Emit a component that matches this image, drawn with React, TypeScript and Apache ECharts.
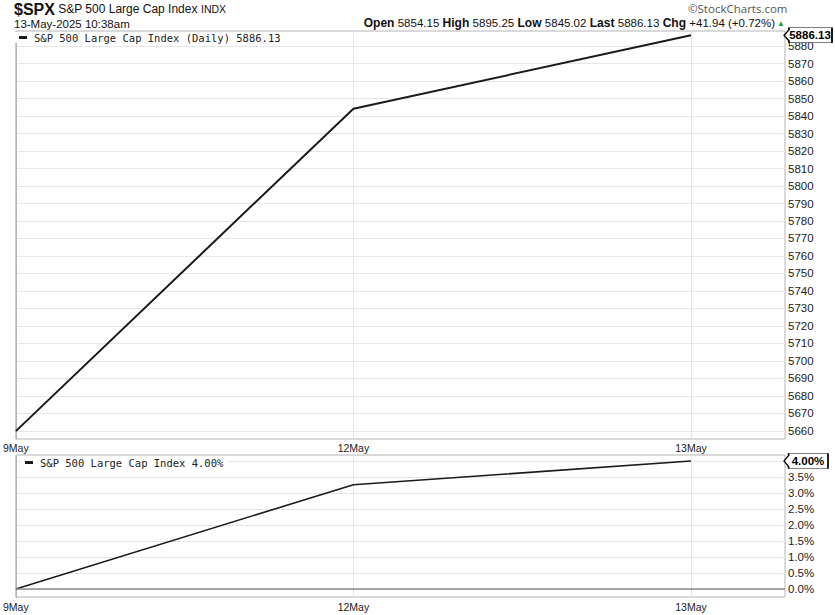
import React, { useEffect, useRef } from "react";
import * as echarts from "echarts";

const dates = ["9May", "12May", "13May"];
const closes = [5659.91, 5844.19, 5886.13];
const pctChange = [0, 3.26, 4.0];
const priceTicks = [5660, 5670, 5680, 5690, 5700, 5710, 5720, 5730, 5740, 5750, 5760, 5770, 5780, 5790, 5800, 5810, 5820, 5830, 5840, 5850, 5860, 5870, 5880];
const pctLabelTicks = [0, 0.5, 1.0, 1.5, 2.0, 2.5, 3.0, 3.5];
const pctGridTicks = [0, 0.5, 1.0, 1.5, 2.0, 2.5, 3.0, 3.5, 4.0];
const quoteLabels = ["Open", "High", "Low", "Last", "Chg"];
const quoteValues = ["5854.15", "5895.25", "5845.02", "5886.13", "+41.94 (+0.72%)"];
const seriesNames = ["S&P 500 Large Cap Index (Daily)", "S&P 500 Large Cap Index"];

const X_MAX = 2.2785;
const FONT = "'Liberation Sans', Arial, sans-serif";
const MONO = "'DejaVu Sans Mono', monospace";
const GRID_C = "#e6e6e6";
const BORDER_C = "#b4b4b4";

export default function App() {
  const ref = useRef<HTMLDivElement>(null);
  useEffect(() => {
    document.body.style.margin = "0";
    const chart = echarts.init(ref.current!, null, { renderer: "svg" });
    const lastClose = closes[closes.length - 1];
    const lastPct = pctChange[pctChange.length - 1];
    const boxPath = "path://M0,7.5 L5,2 L5,0 L48,0 L48,15 L5,15 L5,13 Z";
    const xAxisBase = (gridIndex: number, margin: number) => ({
      type: "value",
      gridIndex,
      min: 0,
      max: X_MAX,
      axisLine: { show: false },
      axisTick: { show: false, customValues: [0, 1, 2] },
      axisLabel: {
        customValues: [0, 1, 2],
        formatter: (v: number) => dates[Math.round(v)],
        fontFamily: FONT,
        fontSize: 10.5,
        color: "#222",
        margin,
      },
      splitLine: { show: true, lineStyle: { color: GRID_C, width: 1 } },
    });
    const option: any = {
      animation: false,
      backgroundColor: "#fff",
      grid: [
        { left: 15, right: 50, top: 31, height: 408, show: true, borderColor: BORDER_C, borderWidth: 1, backgroundColor: "transparent" },
        { left: 15, right: 50, top: 455, height: 142, show: true, borderColor: BORDER_C, borderWidth: 1, backgroundColor: "transparent" },
      ],
      xAxis: [xAxisBase(0, 3), xAxisBase(1, 4)],
      yAxis: [
        {
          type: "value",
          gridIndex: 0,
          position: "right",
          min: 5655.4,
          max: 5888.6,
          axisLine: { show: true, lineStyle: { color: "#aaa", type: "dotted" } },
          axisTick: { show: false, customValues: priceTicks },
          axisLabel: {
            customValues: priceTicks,
            formatter: (v: number) => String(v),
            fontFamily: FONT,
            fontSize: 11.5,
            color: "#222",
            margin: 3,
          },
          splitLine: { show: true, lineStyle: { color: GRID_C, width: 1 } },
        },
        {
          type: "value",
          gridIndex: 1,
          position: "right",
          min: -0.25,
          max: 4.1875,
          axisLine: { show: true, lineStyle: { color: "#aaa", type: "dotted" } },
          axisTick: { show: false, customValues: pctGridTicks },
          axisLabel: {
            customValues: pctLabelTicks,
            formatter: (v: number) => v.toFixed(1) + "%",
            fontFamily: FONT,
            fontSize: 11.5,
            color: "#222",
            margin: 3,
          },
          splitLine: { show: true, lineStyle: { color: GRID_C, width: 1 } },
        },
      ],
      legend: [
        {
          left: 15,
          top: 32,
          data: [seriesNames[0]],
          icon: "rect",
          itemWidth: 8,
          itemHeight: 3,
          itemGap: 0,
          padding: [0, 4, 0, 4],
          backgroundColor: "#fff",
          formatter: (n: string) => n + " " + lastClose.toFixed(2),
          textStyle: { fontFamily: MONO, fontSize: 10.5, color: "#222", padding: [0, 0, 0, 2] },
          selectedMode: false,
        },
        {
          left: 21,
          top: 457,
          data: [seriesNames[1]],
          icon: "rect",
          itemWidth: 8,
          itemHeight: 3,
          itemGap: 0,
          padding: [0, 4, 0, 4],
          backgroundColor: "#fff",
          formatter: (n: string) => n + " " + lastPct.toFixed(2) + "%",
          textStyle: { fontFamily: MONO, fontSize: 10.5, color: "#222", padding: [0, 0, 0, 2] },
          selectedMode: false,
        },
      ],
      series: [
        {
          name: seriesNames[0],
          type: "line",
          xAxisIndex: 0,
          yAxisIndex: 0,
          data: closes.map((c, i) => [i, c]),
          symbol: "none",
          color: "#1a1a1a",
          lineStyle: { color: "#1a1a1a", width: 2 },
          markPoint: {
            symbol: boxPath,
            symbolSize: [48, 15],
            symbolOffset: [23, 0],
            itemStyle: { color: "#fff", borderColor: "#000", borderWidth: 1 },
            label: {
              show: true,
              position: "inside",
              offset: [2, 0],
              formatter: () => lastClose.toFixed(2),
              fontFamily: FONT,
              fontWeight: "bold",
              fontSize: 11.5,
              color: "#000",
            },
            data: [{ coord: [X_MAX, lastClose], value: lastClose }],
          },
        },
        {
          name: seriesNames[1],
          type: "line",
          xAxisIndex: 1,
          yAxisIndex: 1,
          data: pctChange.map((p, i) => [i, p]),
          symbol: "none",
          color: "#1a1a1a",
          lineStyle: { color: "#1a1a1a", width: 1.6 },
          markLine: {
            silent: true,
            symbol: "none",
            label: { show: false },
            lineStyle: { color: "#8a8a8a", type: "solid", width: 1.5 },
            data: [{ yAxis: 0 }],
          },
          markPoint: {
            symbol: boxPath,
            symbolSize: [44, 15],
            symbolOffset: [21, 0],
            itemStyle: { color: "#fff", borderColor: "#000", borderWidth: 1 },
            label: {
              show: true,
              position: "inside",
              offset: [2, 0],
              formatter: () => lastPct.toFixed(2) + "%",
              fontFamily: FONT,
              fontWeight: "bold",
              fontSize: 11.5,
              color: "#000",
            },
            data: [{ coord: [X_MAX, lastPct], value: lastPct }],
          },
        },
      ],
      graphic: [
        {
          type: "text",
          left: 14,
          top: 1,
          style: {
            text: "{t|$SPX} {s|S&P 500 Large Cap Index} {x|INDX}",
            rich: {
              t: { fontFamily: FONT, fontWeight: "bold", fontSize: 16, fill: "#111" },
              s: { fontFamily: FONT, fontSize: 12, fill: "#111" },
              x: { fontFamily: FONT, fontSize: 10.5, fill: "#111" },
            },
          },
        },
        {
          type: "text",
          left: 14,
          top: 18,
          style: { text: "13-May-2025 10:38am", fontFamily: FONT, fontSize: 11.5, fill: "#111" },
        },
        {
          type: "text",
          left: 688,
          top: 2,
          style: { text: "©StockCharts.com", fontFamily: "'Open Sans', sans-serif", fontSize: 11.5, fill: "#555" },
        },
        {
          type: "text",
          right: 60,
          top: 17,
          style: {
            text: quoteLabels.map((l, i) => "{b|" + l + "} {n|" + quoteValues[i] + "}").join(" "),
            rich: {
              b: { fontFamily: FONT, fontWeight: "bold", fontSize: 12, fill: "#111" },
              n: { fontFamily: FONT, fontSize: 11.5, fill: "#111" },
            },
          },
        },
        {
          type: "text",
          right: 50,
          top: 19,
          style: { text: "▲", fontFamily: FONT, fontSize: 8, fill: "#2a9a2a" },
        },
      ],
    };
    chart.setOption(option);
    return () => chart.dispose();
  }, []);
  return <div ref={ref} style={{ width: 835, height: 615 }} />;
}
